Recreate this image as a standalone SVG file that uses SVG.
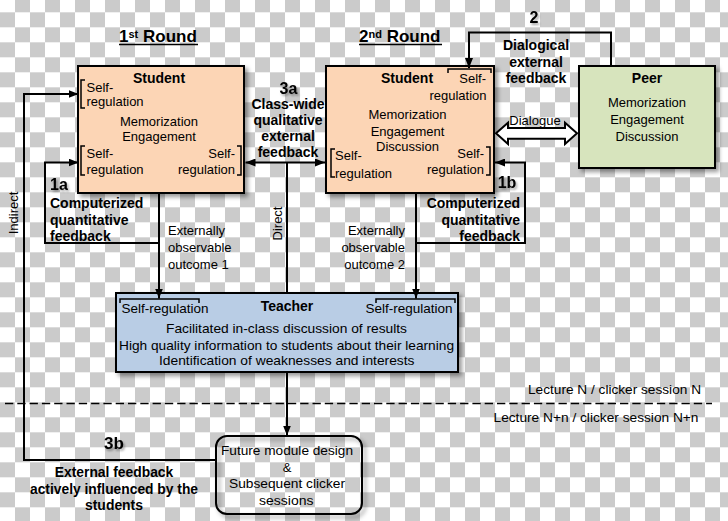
<svg xmlns="http://www.w3.org/2000/svg" width="728" height="521" viewBox="0 0 728 521">
<style>
.t{font-family:"Liberation Sans",Arial,sans-serif;font-size:13px;fill:#000}
.b{font-weight:bold;font-size:14px}
.n{font-weight:bold;font-size:16px}
.h{font-weight:bold;font-size:17px}
.m{text-anchor:middle}
.e{text-anchor:end}
.box{stroke:#000;stroke-width:2}
.br{fill:none;stroke:#000;stroke-width:1.5}
.c{fill:none;stroke:#000;stroke-width:2}
</style>
<defs>
<pattern id="chk" width="30" height="30" patternUnits="userSpaceOnUse" y="-2.7">
<rect width="30" height="30" fill="#ffffff"/>
<rect x="15" y="0" width="15" height="15" fill="#cbcbcb"/>
<rect x="0" y="15" width="15" height="15" fill="#cbcbcb"/>
</pattern>
<filter id="sh" x="-10%" y="-10%" width="130%" height="130%">
<feDropShadow dx="3" dy="3" stdDeviation="2" flood-color="#000" flood-opacity="0.4"/>
</filter>
<filter id="tsh" x="-20%" y="-20%" width="150%" height="160%">
<feDropShadow dx="1.5" dy="2" stdDeviation="1.2" flood-color="#000" flood-opacity="0.35"/>
</filter>
<marker id="ar" viewBox="0 0 10 8" refX="10" refY="4" markerWidth="5" markerHeight="4" orient="auto-start-reverse">
<path d="M0,0 L10,4 L0,8 z" fill="#000"/>
</marker>
</defs>
<rect width="728" height="521" fill="url(#chk)"/>

<g id="titles">
<text class="t h" x="119" y="42">1<tspan font-size="11" dy="-4">st</tspan><tspan dy="4"> Round</tspan></text>
<line x1="119" y1="44.5" x2="198" y2="44.5" stroke="#000" stroke-width="1.5"/>
<text class="t h" x="359" y="42">2<tspan font-size="11" dy="-4">nd</tspan><tspan dy="4"> Round</tspan></text>
<line x1="359" y1="44.5" x2="442" y2="44.5" stroke="#000" stroke-width="1.5"/>
</g>

<g id="student1">
<rect class="box" x="78" y="66" width="166" height="127" fill="#fcd5b5" filter="url(#sh)"/>
<text class="t b m" x="159" y="83">Student</text>
<path class="br" d="M85,80 H81 V108 H85"/>
<text class="t" x="86.5" y="92">Self-</text>
<text class="t" x="86.5" y="106">regulation</text>
<text class="t m" x="159" y="125.5">Memorization</text>
<text class="t m" x="159" y="141">Engagement</text>
<path class="br" d="M85,146 H81 V175 H85"/>
<text class="t" x="86.5" y="158">Self-</text>
<text class="t" x="86.5" y="174">regulation</text>
<path class="br" d="M237,146 H241 V175 H237"/>
<text class="t e" x="235" y="158">Self-</text>
<text class="t e" x="235" y="174">regulation</text>
</g>

<g id="student2">
<rect class="box" x="326" y="66" width="168" height="127" fill="#fcd5b5" filter="url(#sh)"/>
<text class="t b m" x="407" y="83">Student</text>
<path class="br" d="M448,73 V69 H491 V73"/>
<text class="t e" x="486" y="83">Self-</text>
<text class="t e" x="486.5" y="99.5">regulation</text>
<text class="t m" x="407.5" y="119">Memorization</text>
<text class="t m" x="407.5" y="135.5">Engagement</text>
<text class="t m" x="407.5" y="151">Discussion</text>
<path class="br" d="M335,149 H331 V177 H335"/>
<text class="t" x="335" y="160">Self-</text>
<text class="t" x="335" y="178">regulation</text>
<path class="br" d="M486,147 H490 V175 H486"/>
<text class="t e" x="484" y="158">Self-</text>
<text class="t e" x="484" y="174">regulation</text>
</g>

<g id="peer">
<rect class="box" x="579" y="66" width="136" height="102" fill="#d7e4bd" filter="url(#sh)"/>
<text class="t b m" x="647" y="83">Peer</text>
<text class="t m" x="647" y="107">Memorization</text>
<text class="t m" x="647" y="124">Engagement</text>
<text class="t m" x="647" y="140.5">Discussion</text>
</g>

<g id="teacher">
<rect class="box" x="116" y="293" width="342" height="79" fill="#b9cde5" filter="url(#sh)"/>
<path class="br" d="M120,303 V299 H199 V303"/>
<path class="br" d="M376,303 V299 H455 V303"/>
<text class="t" x="121.5" y="313" textLength="87" lengthAdjust="spacingAndGlyphs">Self-regulation</text>
<text class="t b m" x="287" y="311">Teacher</text>
<text class="t" x="365.5" y="313" textLength="87" lengthAdjust="spacingAndGlyphs">Self-regulation</text>
<text class="t" x="166" y="333" textLength="241" lengthAdjust="spacingAndGlyphs">Facilitated in-class discussion of results</text>
<text class="t" x="119" y="349.5" textLength="335" lengthAdjust="spacingAndGlyphs">High quality information to students about their learning</text>
<text class="t" x="159" y="365" textLength="255.5" lengthAdjust="spacingAndGlyphs">Identification of weaknesses and interests</text>
</g>

<g id="future">
<rect class="box" x="216" y="436" width="146" height="78" rx="11" fill="none" filter="url(#sh)"/>
<text class="t" x="221" y="455" textLength="132" lengthAdjust="spacingAndGlyphs">Future module  design</text>
<text class="t m" x="287" y="472">&amp;</text>
<text class="t" x="229" y="488" textLength="116" lengthAdjust="spacingAndGlyphs">Subsequent  clicker</text>
<text class="t" x="259" y="504.5" textLength="54.5" lengthAdjust="spacingAndGlyphs">sessions</text>
</g>

<g id="session-divider">
<line x1="5" y1="403.5" x2="712" y2="403.5" stroke="#000" stroke-width="1.5" stroke-dasharray="8.3,4"/>
<text class="t" x="528" y="393.5" textLength="173" lengthAdjust="spacingAndGlyphs">Lecture N / clicker session N</text>
<text class="t" x="493.5" y="422" textLength="205" lengthAdjust="spacingAndGlyphs">Lecture N+n / clicker session N+n</text>
</g>

<g id="connectors">
<path class="c" d="M216,460 H24 V94 H78.5" marker-end="url(#ar)"/>
<path class="c" d="M159,193 V298.5" marker-end="url(#ar)"/>
<path class="c" d="M159,243 H45 V162.5 H78.5" marker-end="url(#ar)"/>
<path class="c" d="M245.5,162.5 H325" marker-start="url(#ar)" marker-end="url(#ar)"/>
<path class="c" d="M287,162.5 V293"/>
<path class="c" d="M287,372 V435.5" marker-end="url(#ar)"/>
<path class="c" d="M416,193 V298.5" marker-end="url(#ar)"/>
<path class="c" d="M416,243 H525 V162.5 H495" marker-end="url(#ar)"/>
<path class="c" d="M611,66 V32.5 H469 V68" marker-end="url(#ar)"/>
<polygon points="496,133.3 508,122.7 508,128 565,128 565,122.7 577,133.3 565,144 565,138.7 508,138.7 508,144" fill="#fff" stroke="#000" stroke-width="2" stroke-linejoin="miter"/>
</g>

<g id="labels">
<text class="t" transform="translate(17.5,213) rotate(-90)" text-anchor="middle">Indirect</text>
<text class="t" transform="translate(282,223.5) rotate(-90)" text-anchor="middle">Direct</text>
<text class="t n" x="50" y="190" filter="url(#tsh)">1a</text>
<text class="t b" x="50" y="207.5">Computerized</text>
<text class="t b" x="50" y="224.5">quantitative</text>
<text class="t b" x="50" y="240.5">feedback</text>
<text class="t" x="168" y="235">Externally</text>
<text class="t" x="168" y="252">observable</text>
<text class="t" x="168" y="268.5">outcome 1</text>
<text class="t n m" x="288.5" y="93.5" filter="url(#tsh)">3a</text>
<text class="t b m" x="288" y="108.5">Class-wide</text>
<text class="t b m" x="288" y="124.5">qualitative</text>
<text class="t b m" x="288" y="140.5">external</text>
<text class="t b m" x="288" y="157">feedback</text>
<text class="t n m" x="534" y="23" filter="url(#tsh)">2</text>
<text class="t b m" x="536" y="50">Dialogical</text>
<text class="t b m" x="536" y="66.5">external</text>
<text class="t b m" x="536" y="83">feedback</text>
<text class="t m" x="535" y="124.5">Dialogue</text>
<text class="t n m" x="507" y="187.5" filter="url(#tsh)">1b</text>
<text class="t b e" x="520" y="207.5">Computerized</text>
<text class="t b e" x="520" y="224.5">quantitative</text>
<text class="t b e" x="520" y="240.5">feedback</text>
<text class="t e" x="405" y="235">Externally</text>
<text class="t e" x="405" y="252">observable</text>
<text class="t e" x="405" y="268.5">outcome 2</text>
<text class="t h m" x="114" y="448.5" filter="url(#tsh)">3b</text>
<text class="t b m" x="114" y="476.5" textLength="118.5" lengthAdjust="spacingAndGlyphs">External feedback</text>
<text class="t b m" x="114" y="493.5" textLength="168" lengthAdjust="spacingAndGlyphs">actively influenced by the</text>
<text class="t b m" x="114" y="509.5" textLength="58" lengthAdjust="spacingAndGlyphs">students</text>
</g>
</svg>
